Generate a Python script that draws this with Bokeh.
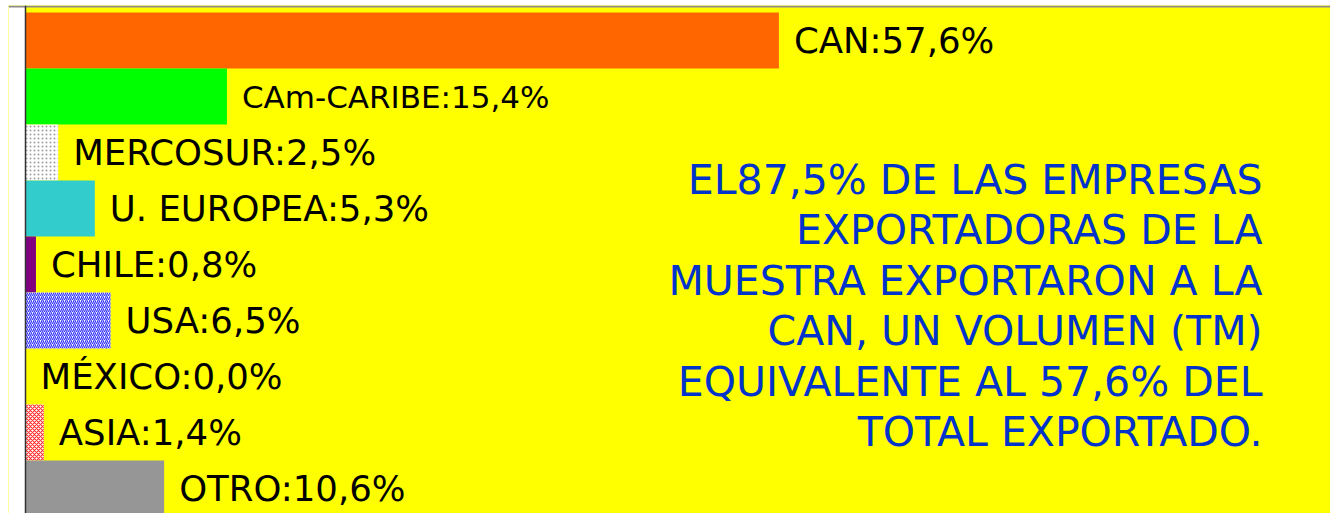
from bokeh.plotting import figure
from bokeh.models import ColumnDataSource, Range1d, Span, BoxAnnotation, Label
from bokeh.core.properties import value
from bokeh.embed import file_html
from bokeh.resources import INLINE

# ---- data ----
regions = ["CAN", "CAm-CARIBE", "MERCOSUR", "U. EUROPEA", "CHILE", "USA", "MÉXICO", "ASIA", "OTRO"]
shares = [57.6, 15.4, 2.5, 5.3, 0.8, 6.5, 0.0, 1.4, 10.6]
fill_colors = ["#FF6600", "#00FF00", "#FFFFFF", "#33CCCC", "#800080", "#FFFFFF", "#FFFFFF", "#FFFFFF", "#969696"]
hatch_patterns = [" ", " ", ".", " ", " ", "/", " ", "x", " "]
hatch_colors = ["#000000", "#000000", "#A0A0A0", "#000000", "#000000", "#3333FF", "#000000", "#FF3333", "#000000"]
label_sizes = ["35.5px", "31px", "35.5px", "35.5px", "35.5px", "35.5px", "35.5px", "35.5px", "35.5px"]
note_lines = [
    "EL87,5% DE LAS EMPRESAS",
    "EXPORTADORAS DE LA",
    "MUESTRA EXPORTARON A LA",
    "CAN, UN VOLUMEN (TM)",
    "EQUIVALENTE AL 57,6% DEL",
    "TOTAL EXPORTADO.",
]

labels = [f"{r}:{f'{v:.1f}'.replace('.', ',')}%" for r, v in zip(regions, shares)]
idx = list(range(len(regions)))

src = ColumnDataSource(dict(
    y=idx, right=shares, fill=fill_colors, hatch=hatch_patterns, hcol=hatch_colors,
    label=labels, size=label_sizes,
))

PX = 13.08   # pixels per percentage point
BAND = 56.0  # pixels per bar band
W, H = 1330, 513
LEFT, TOP = 8, 5       # border around the frame
X0_PX, Y0_PX = 25, 40  # page pixel of x=0 and of the first band centre

x_start = -(X0_PX - LEFT) / PX
x_end = (W - X0_PX) / PX
y_top = (TOP - Y0_PX) / BAND
y_bottom = (H - Y0_PX) / BAND

p = figure(width=W, height=H, output_backend="svg", toolbar_location=None,
           x_range=Range1d(x_start, x_end), y_range=Range1d(y_bottom, y_top),
           min_border_left=LEFT, min_border_right=0, min_border_top=TOP, min_border_bottom=0)
p.xaxis.visible = False
p.yaxis.visible = False
p.grid.visible = False
p.outline_line_color = None
p.background_fill_color = "#FFFF00"
p.border_fill_color = "white"

p.add_layout(BoxAnnotation(right=0, fill_color="white", fill_alpha=1.0, line_alpha=0))

p.hbar(y="y", left=0, right="right", height=1.0, source=src,
       fill_color="fill", line_color=None,
       hatch_pattern="hatch", hatch_color="hcol", hatch_scale=4, hatch_weight=1.2)

p.text(x="right", y="y", text="label", source=src, x_offset=15,
       text_baseline="middle", text_align="left", text_color="black",
       text_font=value("DejaVu Sans"), text_font_size="size")

p.add_layout(Span(location=(6 - Y0_PX) / BAND, dimension="width", line_color="#8C8C8C", line_width=2))
p.add_layout(Span(location=0, dimension="height", line_color="#333333", line_width=1.5))

note_x = (1262 - X0_PX) / PX
for k, line in enumerate(note_lines):
    centre_px = 179 + 50.5 * k
    p.add_layout(Label(x=note_x, y=(centre_px - Y0_PX) / BAND, text=line,
                       text_align="right", text_baseline="middle",
                       text_color="#0033CC", text_font="DejaVu Sans",
                       text_font_size="41px"))

open("out.html", "w").write(file_html(p, INLINE))
